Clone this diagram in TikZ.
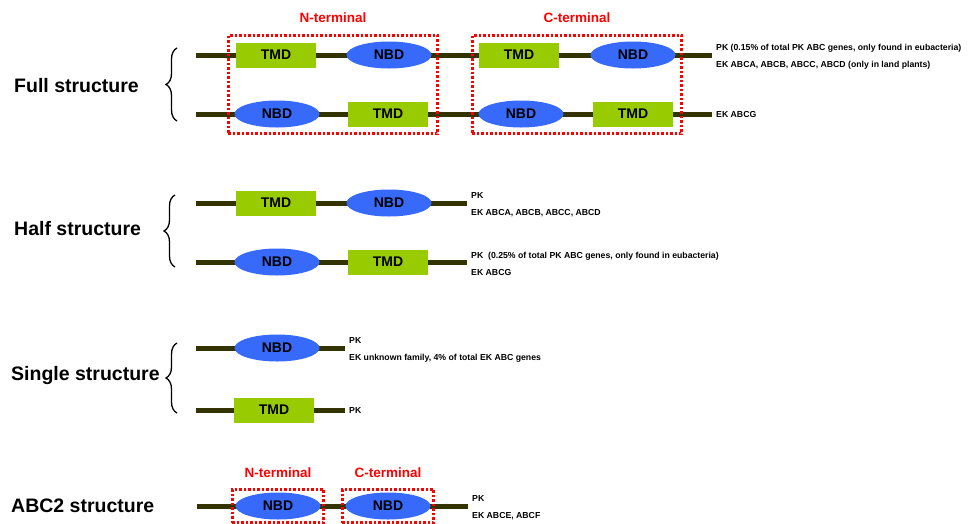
\documentclass[tikz,border=0pt]{standalone}
\usepackage{fontspec}
\setmainfont{Liberation Sans}
\usetikzlibrary{positioning,fit,shapes.geometric,decorations.pathreplacing}
\definecolor{tmdgreen}{RGB}{153,204,0}
\definecolor{nbdblue}{RGB}{55,105,250}
\definecolor{chain}{RGB}{51,51,0}
\definecolor{termred}{RGB}{255,0,0}
\tikzset{
  tmd/.style={rectangle, fill=tmdgreen, minimum width=80pt, minimum height=25pt,
    inner sep=0pt, font=\fontsize{14}{14}\selectfont\bfseries},
  nbd/.style={ellipse, fill=nbdblue, minimum width=85pt, minimum height=27pt,
    inner sep=0pt, font=\fontsize{14}{14}\selectfont\bfseries},
  backbone/.style={draw=chain, line width=5pt},
  termbox/.style={draw=termred, line width=2.5pt, dash pattern=on 2.5pt off 2pt, inner sep=6pt},
  termlbl/.style={text=termred, inner sep=0pt, font=\fontsize{13.5}{13.5}\selectfont\bfseries},
  info/.style={align=left, inner sep=0pt, yshift=-1.5pt, font=\fontsize{8.7}{17}\selectfont\bfseries},
  kind/.style={anchor=base west, inner sep=0pt, font=\fontsize{19.5}{19.5}\selectfont\bfseries},
  brc/.style={decorate, decoration={brace, amplitude=11pt}, line width=1.3pt}
}
\begin{document}
\begin{tikzpicture}[x=1pt,y=-1pt]
\useasboundingbox (0,0) rectangle (969,523);
% full structure
\node[kind] (full) at (14,92) {Full structure};
\draw[brc] (177,121) -- (177,48);
\coordinate (f1s) at (196,55);
\coordinate (f1e) at (712,55);
\draw[backbone] (f1s) -- (f1e);
\node[tmd] (f1t1) at (276,55) {TMD};
\node[nbd] (f1n1) at (389,55) {NBD};
\node[tmd] (f1t2) at (519,55) {TMD};
\node[nbd] (f1n2) at (633,55) {NBD};
\node[info, right=4pt of f1e] {PK (0.15\% of total PK ABC genes, only found in eubacteria)\\EK ABCA, ABCB, ABCC, ABCD (only in land plants)};
\coordinate (f2s) at (196,114);
\coordinate (f2e) at (712,114);
\draw[backbone] (f2s) -- (f2e);
\node[nbd] (f2n1) at (277,114) {NBD};
\node[tmd] (f2t1) at (388,114) {TMD};
\node[nbd] (f2n2) at (521,114) {NBD};
\node[tmd] (f2t2) at (633,114) {TMD};
\node[info, right=4pt of f2e, yshift=1.5pt] {EK ABCG};
\node[termbox, fit=(f1t1)(f1n1)(f2n1)(f2t1)] (nbox) {};
\node[termbox, fit=(f1t2)(f1n2)(f2n2)(f2t2)] (cbox) {};
\node[termlbl, above=11pt of nbox] {N-terminal};
\node[termlbl, above=11pt of cbox] {C-terminal};
% half structure
\node[kind] (half) at (14,235) {Half structure};
\draw[brc] (175,267) -- (175,195);
\coordinate (h1s) at (196,203);
\coordinate (h1e) at (467,203);
\draw[backbone] (h1s) -- (h1e);
\node[tmd] (h1t) at (276,203) {TMD};
\node[nbd] (h1n) at (389,203) {NBD};
\node[info, right=4pt of h1e] {PK\\EK ABCA, ABCB, ABCC, ABCD};
\coordinate (h2s) at (196,262);
\coordinate (h2e) at (467,262);
\draw[backbone] (h2s) -- (h2e);
\node[nbd] (h2n) at (277,262) {NBD};
\node[tmd] (h2t) at (388,262) {TMD};
\node[info, right=4pt of h2e] {PK~~(0.25\% of total PK ABC genes, only found in eubacteria)\\EK ABCG};
% single structure
\node[kind] (single) at (11,380) {Single structure};
\draw[brc] (177,413) -- (177,343);
\coordinate (s1s) at (196,348);
\coordinate (s1e) at (345,348);
\draw[backbone] (s1s) -- (s1e);
\node[nbd] (s1n) at (277,348) {NBD};
\node[info, right=4pt of s1e] {PK\\EK unknown family, 4\% of total EK ABC genes};
\coordinate (s2s) at (196,410);
\coordinate (s2e) at (345,410);
\draw[backbone] (s2s) -- (s2e);
\node[tmd] (s2t) at (274,410) {TMD};
\node[info, right=4pt of s2e, yshift=1.5pt] {PK};
% ABC2 structure
\node[kind] (abc2) at (11,512) {ABC2 structure};
\coordinate (a1s) at (197,506);
\coordinate (a1e) at (468,506);
\draw[backbone] (a1s) -- (a1e);
\node[nbd] (a1n1) at (278,506) {NBD};
\node[nbd] (a1n2) at (388,506) {NBD};
\node[info, right=4pt of a1e] {PK\\EK ABCE, ABCF};
\node[termbox, inner sep=3pt, fit=(a1n1)] (anbox) {};
\node[termbox, inner sep=3pt, fit=(a1n2)] (acbox) {};
\node[termlbl, above=10pt of anbox] {N-terminal};
\node[termlbl, above=10pt of acbox] {C-terminal};
\end{tikzpicture}
\end{document}
